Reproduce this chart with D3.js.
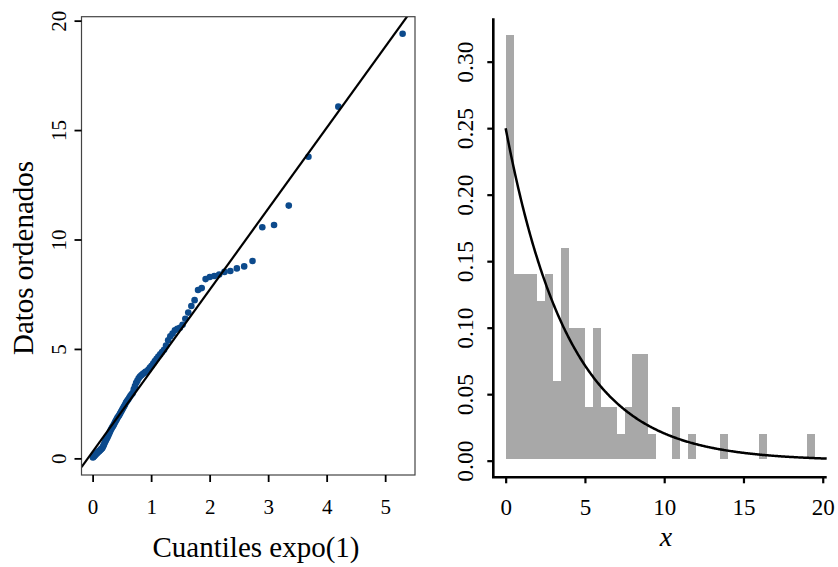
<!DOCTYPE html>
<html>
<head>
<meta charset="utf-8">
<script src="https://cdn.jsdelivr.net/npm/d3@7"></script>
<style>
  html, body { margin: 0; padding: 0; background: #fff; }
  svg { display: block; font-family: "Liberation Serif", "Times New Roman", serif; }
</style>
</head>
<body>
<svg id="chart" width="838" height="567"></svg>
<script>
// Sorted sample (n = 100)
const sample = [
  0.04, 0.07, 0.10, 0.13, 0.16, 0.19, 0.22, 0.25, 0.28, 0.31,
  0.33, 0.36, 0.39, 0.42, 0.45, 0.48, 0.55, 0.62, 0.70, 0.77,
  0.84, 0.91, 0.97, 1.04, 1.12, 1.20, 1.28, 1.35, 1.42, 1.48,
  1.55, 1.63, 1.70, 1.77, 1.85, 1.91, 1.97, 2.05, 2.13, 2.21,
  2.29, 2.37, 2.45, 2.55, 2.62, 2.69, 2.77, 2.85, 2.92, 2.98,
  3.15, 3.30, 3.45, 3.55, 3.66, 3.74, 3.80, 3.85, 3.90, 3.95,
  3.98, 4.06, 4.15, 4.23, 4.33, 4.45, 4.55, 4.65, 4.75, 4.86,
  4.96, 5.15, 5.40, 5.58, 5.70, 5.85, 5.92, 5.97, 6.10, 6.38,
  6.66, 6.96, 7.23, 7.69, 7.78, 8.19, 8.29, 8.33, 8.40, 8.52,
  8.56, 8.68, 8.77, 9.02, 10.56, 10.66, 11.55, 13.78, 16.07, 19.40
];

// Histogram bin width and the exponential rate of the overlaid density
const binWidth = 0.5;
const rate = 0.25;

// Reference line of the Q-Q plot
const refIntercept = 0.3;
const refSlope = 3.7;

// Tick values
const qqXTicks = [0, 1, 2, 3, 4, 5];
const qqYTicks = [0, 5, 10, 15, 20];
const histXTicks = [0, 5, 10, 15, 20];
const histYTicks = [0, 0.05, 0.10, 0.15, 0.20, 0.25, 0.30];

// Labels
const qqXLabel = "Cuantiles expo(1)";
const qqYLabel = "Datos ordenados";
const histXLabel = "x";

const svg = d3.select("#chart");
const n = sample.length;

// ---------- Left panel: Q-Q plot against expo(1) ----------
const L = { x0: 81.5, x1: 415, y0: 16.7, y1: 475 };
const qx = d3.scaleLinear().domain([-0.19, 5.51]).range([L.x0, L.x1]);
const qy = d3.scaleLinear().domain([-0.76, 20.18]).range([L.y1, L.y0]);

// theoretical expo(1) quantiles at plotting positions (i - 0.5) / n
const qqData = sample.map((v, i) => ({ t: -Math.log(1 - (i + 0.5) / n), v }));

svg.append("clipPath").attr("id", "qqclip")
  .append("rect").attr("x", L.x0).attr("y", L.y0)
  .attr("width", L.x1 - L.x0).attr("height", L.y1 - L.y0);

const qqG = svg.append("g");

qqG.append("g").attr("clip-path", "url(#qqclip)")
  .selectAll("circle").data(qqData).join("circle")
  .attr("cx", d => qx(d.t)).attr("cy", d => qy(d.v))
  .attr("r", 3.3).attr("fill", "#0c4a8c");

const [lx0, lx1] = qx.domain();
qqG.append("line").attr("clip-path", "url(#qqclip)")
  .attr("x1", qx(lx0)).attr("y1", qy(refIntercept + refSlope * lx0))
  .attr("x2", qx(lx1)).attr("y2", qy(refIntercept + refSlope * lx1))
  .attr("stroke", "#000").attr("stroke-width", 2.2);

qqG.append("rect").attr("x", L.x0).attr("y", L.y0)
  .attr("width", L.x1 - L.x0).attr("height", L.y1 - L.y0)
  .attr("fill", "none").attr("stroke", "#444").attr("stroke-width", 1.2);

const qqXAxis = qqG.append("g").attr("transform", `translate(0,${L.y1})`)
  .call(d3.axisBottom(qx).tickValues(qqXTicks).tickSize(7).tickFormat(d3.format("d")));
qqXAxis.select(".domain").remove();
qqXAxis.selectAll(".tick line").attr("stroke", "#000").attr("stroke-width", 1.8);
qqXAxis.selectAll(".tick text").attr("y", 38.5).attr("dy", 0)
  .attr("font-size", 21).attr("fill", "#000").attr("font-family", "Liberation Serif");

const qqYAxis = qqG.append("g").attr("transform", `translate(${L.x0},0)`)
  .call(d3.axisLeft(qy).tickValues(qqYTicks).tickSize(7).tickFormat(d3.format("d")));
qqYAxis.select(".domain").remove();
qqYAxis.selectAll(".tick line").attr("stroke", "#000").attr("stroke-width", 1.8);
qqYAxis.selectAll(".tick text").attr("x", 0).attr("y", -15.5).attr("dy", 0)
  .attr("transform", "rotate(-90)").attr("text-anchor", "middle")
  .attr("font-size", 21).attr("fill", "#000").attr("font-family", "Liberation Serif");

svg.append("text").attr("x", 256).attr("y", 557)
  .attr("text-anchor", "middle").attr("font-size", 29).text(qqXLabel);
svg.append("text").attr("transform", "translate(33,258) rotate(-90)")
  .attr("text-anchor", "middle").attr("font-size", 29).text(qqYLabel);

// ---------- Right panel: density histogram with exponential curve ----------
const R = { x0: 493.3, x1: 826.7, y0: 18.3, y1: 477.3 };
const hx = d3.scaleLinear().domain([-0.78, 20.25]).range([R.x0, R.x1]);
const hy = d3.scaleLinear().domain([-0.0125, 0.3326]).range([R.y1, R.y0]);

const bins = d3.bin()
  .domain([0, 20])
  .thresholds(d3.range(0, 20, binWidth))(sample)
  .filter(b => b.length > 0);

const hG = svg.append("g");
hG.append("g").attr("shape-rendering", "crispEdges")
  .selectAll("rect").data(bins).join("rect")
  .attr("x", b => hx(b.x0)).attr("width", b => hx(b.x1) - hx(b.x0))
  .attr("y", b => hy(b.length / (n * binWidth)))
  .attr("height", b => hy(0) - hy(b.length / (n * binWidth)) - 1.2)
  .attr("fill", "#a8a8a8");

// exponential density with rate 0.25 over the visible x range
const curveXs = d3.range(0, hx.domain()[1] + 1e-9, 0.05);
hG.append("path")
  .datum(curveXs)
  .attr("d", d3.line().x(x => hx(x)).y(x => hy(rate * Math.exp(-rate * x))))
  .attr("fill", "none").attr("stroke", "#000").attr("stroke-width", 2.5);

// L-shaped axes
hG.append("path")
  .attr("d", `M${R.x0},${R.y0}V${R.y1}H${R.x1}`)
  .attr("fill", "none").attr("stroke", "#000").attr("stroke-width", 2.6);

const hXAxis = hG.append("g").attr("transform", `translate(0,${R.y1})`)
  .call(d3.axisBottom(hx).tickValues(histXTicks).tickSize(6).tickFormat(d3.format("d")));
hXAxis.select(".domain").remove();
hXAxis.selectAll(".tick line").attr("stroke", "#000").attr("stroke-width", 2.2);
hXAxis.selectAll(".tick text").attr("y", 37.5).attr("dy", 0)
  .attr("font-size", 23).attr("fill", "#000").attr("font-family", "Liberation Serif");

const hYAxis = hG.append("g").attr("transform", `translate(${R.x0},0)`)
  .call(d3.axisLeft(hy).tickValues(histYTicks).tickSize(6).tickFormat(d3.format(".2f")));
hYAxis.select(".domain").remove();
hYAxis.selectAll(".tick line").attr("stroke", "#000").attr("stroke-width", 2.2);
hYAxis.selectAll(".tick text").attr("x", 0).attr("y", -20.5).attr("dy", 0)
  .attr("transform", "rotate(-90)").attr("text-anchor", "middle")
  .attr("font-size", 23.5).attr("fill", "#000").attr("font-family", "Liberation Serif");

svg.append("text").attr("x", 666).attr("y", 546)
  .attr("text-anchor", "middle").attr("font-size", 28).attr("font-style", "italic")
  .text(histXLabel);
</script>
</body>
</html>
